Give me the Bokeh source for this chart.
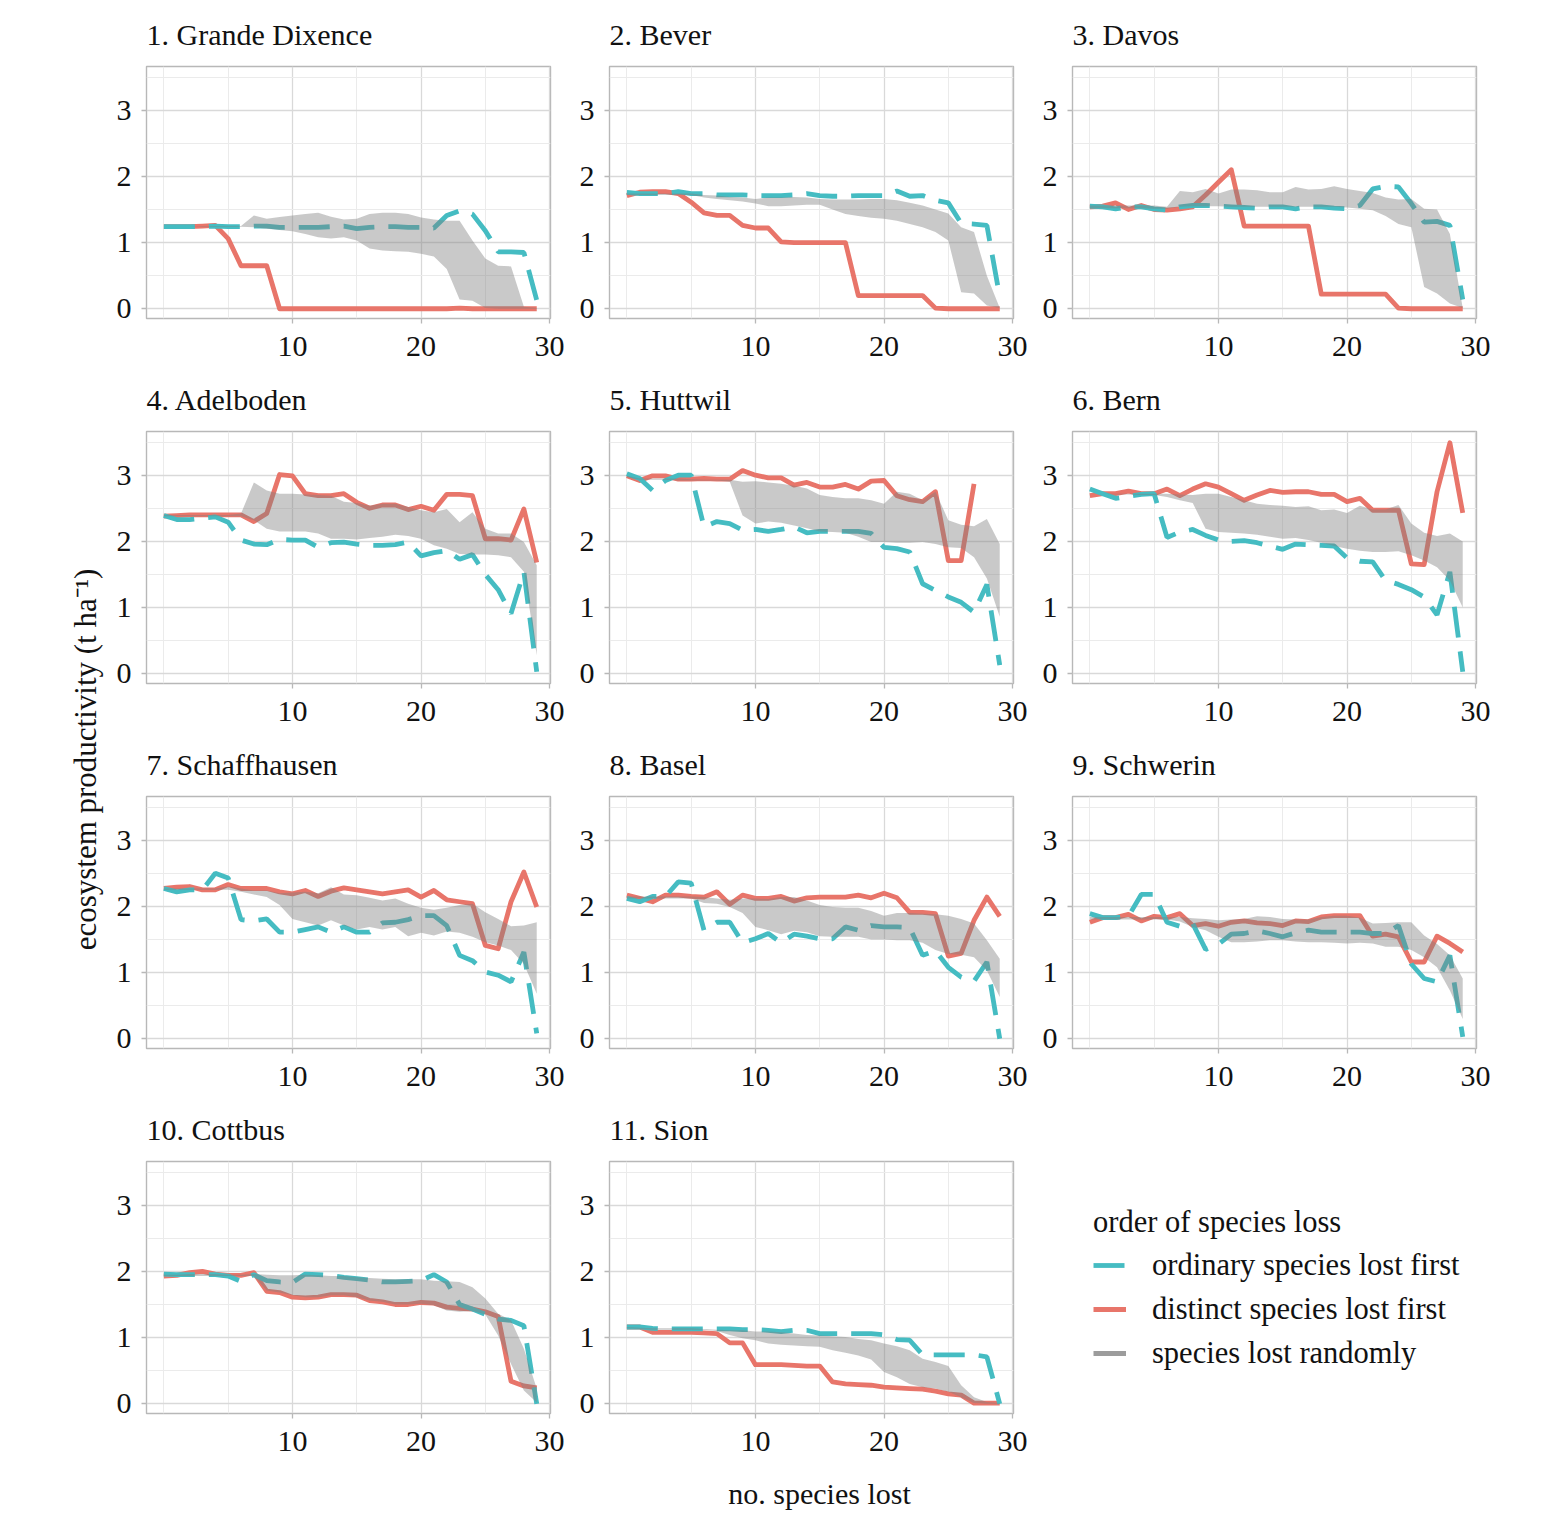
import math
from bokeh.plotting import figure
from bokeh.layouts import row, column
from bokeh.models import FixedTicker, Legend, LegendItem, Range1d, Label
from bokeh.embed import file_html
from bokeh.resources import INLINE

NAN = float("nan")

# number of species lost (x axis), shared by every site
SPECIES_LOST = list(range(30))

SITES = ["1. Grande Dixence", "2. Bever", "3. Davos", "4. Adelboden", "5. Huttwil",
         "6. Bern", "7. Schaffhausen", "8. Basel", "9. Schwerin", "10. Cottbus", "11. Sion"]

# productivity (t/ha): distinct species lost first, ordinary species lost first,
# and the envelope of random loss orders (lower / upper)
GD_DISTINCT = [1.24, 1.24, 1.24, 1.25, 1.26, 1.06, 0.65, 0.65, 0.65, 0.0, 0, 0, 0, 0, 0, 0, 0, 0, 0, 0, 0, 0, 0, 0.01, 0, 0, 0, 0, 0, 0]
GD_ORDINARY = [1.24, 1.24, 1.24, 1.24, 1.25, 1.24, 1.24, 1.25, 1.25, 1.23, 1.23, 1.23, 1.23, 1.24, 1.25, 1.21, 1.23, 1.24, 1.24, 1.23, 1.23, 1.22, 1.41, 1.48, 1.43, 1.18, 0.86, 0.86, 0.85, 0.13]
GD_RAND_LO = [1.24, 1.24, 1.24, 1.24, 1.24, 1.24, 1.24, 1.23, 1.21, 1.19, 1.17, 1.13, 1.08, 1.06, 1.08, 1.03, 0.91, 0.88, 0.87, 0.86, 0.83, 0.79, 0.6, 0.14, 0.12, 0.01, 0, 0, 0, 0]
GD_RAND_HI = [1.24, 1.24, 1.24, 1.25, 1.25, 1.25, 1.25, 1.41, 1.36, 1.385, 1.41, 1.43, 1.45, 1.39, 1.35, 1.36, 1.43, 1.45, 1.45, 1.43, 1.38, 1.35, 1.33, 1.33, 1.03, 0.76, 0.65, 0.64, 0.03, 0.01]

BE_DISTINCT = [1.71, 1.76, 1.77, 1.77, 1.74, 1.61, 1.45, 1.41, 1.41, 1.26, 1.22, 1.22, 1.01, 1.0, 1.0, 1.0, 1.0, 1.0, 0.2, 0.2, 0.2, 0.2, 0.2, 0.2, 0.01, 0, 0, 0, 0, 0]
BE_ORDINARY = [1.76, 1.74, 1.74, 1.74, 1.77, 1.74, 1.74, 1.72, 1.72, 1.72, 1.71, 1.71, 1.71, 1.72, 1.74, 1.71, 1.70, 1.70, 1.71, 1.71, 1.71, 1.78, 1.70, 1.71, 1.64, 1.6, 1.29, 1.28, 1.26, 0.18]
BE_RAND_LO = [1.72, 1.72, 1.72, 1.72, 1.72, 1.72, 1.68, 1.66, 1.64, 1.62, 1.59, 1.55, 1.55, 1.56, 1.57, 1.57, 1.5, 1.43, 1.4, 1.375, 1.36, 1.33, 1.28, 1.23, 1.16, 1.03, 0.25, 0.23, 0.05, 0.01]
BE_RAND_HI = [1.74, 1.74, 1.74, 1.74, 1.74, 1.74, 1.72, 1.71, 1.69, 1.68, 1.66, 1.68, 1.68, 1.69, 1.68, 1.66, 1.65, 1.65, 1.65, 1.66, 1.66, 1.64, 1.6, 1.56, 1.5, 1.44, 1.23, 1.16, 0.5, 0.01]

DA_DISTINCT = [1.54, 1.55, 1.6, 1.5, 1.56, 1.5, 1.49, 1.51, 1.54, 1.72, 1.91, 2.1, 1.25, 1.25, 1.25, 1.25, 1.25, 1.25, 0.22, 0.22, 0.22, 0.22, 0.22, 0.22, 0.01, 0, 0, 0, 0, 0]
DA_ORDINARY = [1.55, 1.54, 1.51, 1.54, 1.54, 1.51, 1.49, 1.54, 1.56, 1.56, 1.55, 1.54, 1.53, 1.52, 1.54, 1.54, 1.51, 1.54, 1.54, 1.52, 1.51, 1.56, 1.81, 1.85, 1.84, 1.59, 1.31, 1.32, 1.26, 0.14]
DA_RAND_LO = [1.52, 1.52, 1.52, 1.52, 1.52, 1.51, 1.51, 1.54, 1.55, 1.55, 1.55, 1.54, 1.54, 1.54, 1.54, 1.54, 1.54, 1.54, 1.54, 1.54, 1.53, 1.51, 1.49, 1.4, 1.28, 1.23, 0.33, 0.23, 0.08, 0.01]
DA_RAND_HI = [1.56, 1.56, 1.56, 1.56, 1.56, 1.56, 1.54, 1.78, 1.76, 1.81, 1.74, 1.8, 1.8, 1.79, 1.76, 1.76, 1.84, 1.8, 1.81, 1.85, 1.81, 1.78, 1.75, 1.68, 1.65, 1.66, 1.51, 1.5, 1.13, 0.01]

AD_DISTINCT = [2.38, 2.39, 2.4, 2.4, 2.4, 2.4, 2.4, 2.3, 2.42, 3.01, 2.99, 2.72, 2.69, 2.69, 2.72, 2.59, 2.5, 2.55, 2.55, 2.48, 2.53, 2.47, 2.71, 2.71, 2.69, 2.04, 2.04, 2.02, 2.49, 1.68]
AD_ORDINARY = [2.39, 2.33, 2.33, 2.35, 2.37, 2.29, 2.02, 1.96, 1.95, 2.03, 2.02, 2.02, 1.91, 1.98, 1.99, 1.96, 1.94, 1.94, 1.95, 1.99, 1.78, 1.83, 1.86, 1.73, 1.8, 1.5, 1.27, 0.91, 1.54, 0.03]
AD_RAND_LO = [2.38, 2.38, 2.38, 2.38, 2.38, 2.38, 2.38, 2.32, 2.19, 2.15, 2.15, 2.15, 2.12, 2.04, 2.04, 2.03, 2.05, 2.07, 2.1, 2.08, 2.04, 1.94, 1.89, 1.81, 1.8, 1.8, 1.79, 1.76, 1.54, 0.28]
AD_RAND_HI = [2.4, 2.4, 2.4, 2.4, 2.4, 2.4, 2.42, 2.89, 2.77, 2.72, 2.72, 2.71, 2.7, 2.69, 2.6, 2.58, 2.54, 2.57, 2.57, 2.52, 2.47, 2.44, 2.49, 2.29, 2.44, 2.19, 2.12, 2.12, 1.99, 1.64]

HU_DISTINCT = [2.99, 2.92, 2.99, 2.99, 2.94, 2.94, 2.95, 2.94, 2.94, 3.07, 3.0, 2.96, 2.96, 2.85, 2.89, 2.82, 2.82, 2.86, 2.79, 2.91, 2.92, 2.69, 2.63, 2.6, 2.75, 1.71, 1.71, 2.87, NAN, NAN]
HU_ORDINARY = [3.02, 2.95, 2.77, 2.92, 3.0, 3.0, 2.22, 2.3, 2.27, 2.17, 2.18, 2.15, 2.18, 2.22, 2.13, 2.15, 2.15, 2.15, 2.15, 2.12, 1.91, 1.89, 1.84, 1.36, 1.26, 1.16, 1.08, 0.93, 1.35, 0.13]
HU_RAND_LO = [2.97, 2.93, 2.93, 2.93, 2.92, 2.92, 2.92, 2.92, 2.9, 2.39, 2.27, 2.3, 2.28, 2.24, 2.2, 2.15, 2.14, 2.13, 2.07, 1.99, 1.99, 1.98, 1.98, 1.99, 1.96, 1.91, 1.9, 1.76, 1.44, 0.86]
HU_RAND_HI = [2.99, 2.95, 2.95, 2.95, 2.95, 2.94, 2.93, 2.93, 2.93, 2.9, 2.91, 2.89, 2.87, 2.84, 2.8, 2.7, 2.67, 2.65, 2.65, 2.62, 2.57, 2.75, 2.72, 2.62, 2.75, 2.32, 2.25, 2.23, 2.34, 1.96]

BN_DISTINCT = [2.69, 2.72, 2.72, 2.76, 2.72, 2.72, 2.79, 2.69, 2.79, 2.87, 2.82, 2.72, 2.62, 2.7, 2.77, 2.74, 2.75, 2.75, 2.71, 2.71, 2.6, 2.65, 2.47, 2.47, 2.47, 1.66, 1.65, 2.75, 3.49, 2.43]
BN_ORDINARY = [2.79, 2.72, 2.65, 2.68, 2.71, 2.72, 2.06, 2.14, 2.18, 2.09, 2.02, 2.0, 2.01, 1.98, 1.93, 1.88, 1.96, 1.95, 1.94, 1.93, 1.75, 1.7, 1.69, 1.41, 1.35, 1.27, 1.16, 0.89, 1.54, 0.03]
BN_RAND_LO = [2.72, 2.72, 2.71, 2.71, 2.7, 2.7, 2.67, 2.62, 2.58, 2.19, 2.14, 2.13, 2.12, 2.1, 2.07, 2.04, 2.05, 2.02, 1.98, 1.93, 1.89, 1.86, 1.84, 1.84, 1.85, 1.79, 1.71, 1.61, 1.41, 1.0]
BN_RAND_HI = [2.72, 2.72, 2.72, 2.72, 2.72, 2.72, 2.72, 2.71, 2.7, 2.72, 2.72, 2.67, 2.62, 2.57, 2.55, 2.54, 2.52, 2.53, 2.47, 2.48, 2.43, 2.54, 2.48, 2.48, 2.55, 2.27, 2.13, 2.08, 2.12, 2.0]

SC_DISTINCT = [2.27, 2.29, 2.3, 2.25, 2.25, 2.33, 2.27, 2.27, 2.27, 2.22, 2.19, 2.24, 2.15, 2.23, 2.28, 2.25, 2.22, 2.19, 2.22, 2.25, 2.14, 2.24, 2.1, 2.07, 2.04, 1.41, 1.36, 2.07, 2.52, 1.99]
SC_ORDINARY = [2.27, 2.22, 2.25, 2.25, 2.5, 2.43, 1.8, 1.78, 1.81, 1.61, 1.61, 1.65, 1.69, 1.61, 1.69, 1.61, 1.61, 1.75, 1.76, 1.8, 1.86, 1.86, 1.71, 1.26, 1.18, 1.01, 0.96, 0.86, 1.31, 0.08]
SC_RAND_LO = [2.25, 2.25, 2.25, 2.25, 2.25, 2.25, 2.22, 2.18, 2.14, 2.02, 1.81, 1.76, 1.71, 1.79, 1.71, 1.65, 1.69, 1.65, 1.69, 1.55, 1.6, 1.56, 1.62, 1.6, 1.54, 1.46, 1.41, 1.34, 1.13, 0.68]
SC_RAND_HI = [2.27, 2.27, 2.27, 2.27, 2.27, 2.3, 2.27, 2.24, 2.24, 2.2, 2.21, 2.22, 2.2, 2.29, 2.18, 2.17, 2.13, 2.09, 2.12, 2.04, 1.98, 1.95, 1.98, 2.02, 2.04, 1.91, 1.81, 1.7, 1.71, 1.76]

BA_DISTINCT = [2.17, 2.12, 2.07, 2.17, 2.17, 2.15, 2.14, 2.22, 2.03, 2.17, 2.12, 2.12, 2.15, 2.08, 2.13, 2.14, 2.14, 2.14, 2.17, 2.13, 2.2, 2.13, 1.91, 1.91, 1.89, 1.25, 1.29, 1.79, 2.14, 1.85]
BA_ORDINARY = [2.12, 2.07, 2.15, 2.15, 2.37, 2.35, 1.64, 1.76, 1.76, 1.45, 1.51, 1.59, 1.45, 1.58, 1.55, 1.51, 1.51, 1.69, 1.64, 1.71, 1.69, 1.69, 1.68, 1.26, 1.33, 1.08, 0.93, 0.87, 1.16, 0.0]
BA_RAND_LO = [2.12, 2.12, 2.12, 2.12, 2.12, 2.12, 2.05, 2.04, 1.99, 1.9, 1.69, 1.64, 1.58, 1.63, 1.61, 1.55, 1.54, 1.54, 1.54, 1.5, 1.5, 1.49, 1.49, 1.45, 1.34, 1.28, 1.27, 1.23, 1.03, 0.63]
BA_RAND_HI = [2.15, 2.15, 2.15, 2.15, 2.15, 2.15, 2.14, 2.12, 2.1, 2.12, 2.12, 2.11, 2.14, 2.14, 2.09, 2.02, 1.99, 1.98, 1.98, 1.93, 1.86, 1.9, 1.9, 1.89, 1.88, 1.86, 1.81, 1.74, 1.49, 1.21]

SW_DISTINCT = [1.76, 1.83, 1.83, 1.88, 1.78, 1.85, 1.83, 1.89, 1.71, 1.74, 1.7, 1.76, 1.78, 1.75, 1.74, 1.71, 1.78, 1.77, 1.84, 1.86, 1.86, 1.86, 1.55, 1.58, 1.54, 1.16, 1.16, 1.55, 1.44, 1.31]
SW_ORDINARY = [1.89, 1.83, 1.83, 1.85, 2.18, 2.18, 1.76, 1.7, 1.74, 1.35, 1.43, 1.58, 1.59, 1.63, 1.59, 1.54, 1.6, 1.64, 1.61, 1.61, 1.61, 1.61, 1.59, 1.59, 1.71, 1.13, 0.91, 0.86, 1.26, 0.03]
SW_RAND_LO = [1.8, 1.8, 1.8, 1.8, 1.8, 1.8, 1.8, 1.77, 1.69, 1.64, 1.54, 1.46, 1.46, 1.47, 1.49, 1.49, 1.47, 1.46, 1.46, 1.45, 1.44, 1.45, 1.44, 1.39, 1.39, 1.34, 1.23, 1.08, 0.73, 0.3]
SW_RAND_HI = [1.84, 1.84, 1.84, 1.84, 1.84, 1.84, 1.84, 1.84, 1.82, 1.81, 1.79, 1.8, 1.81, 1.85, 1.84, 1.81, 1.8, 1.8, 1.84, 1.86, 1.86, 1.83, 1.74, 1.75, 1.76, 1.76, 1.56, 1.43, 1.26, 0.91]

CO_DISTINCT = [1.93, 1.94, 1.98, 2.0, 1.96, 1.94, 1.94, 1.98, 1.7, 1.68, 1.61, 1.6, 1.61, 1.65, 1.65, 1.64, 1.56, 1.54, 1.5, 1.5, 1.53, 1.52, 1.46, 1.44, 1.43, 1.39, 1.32, 0.34, 0.27, 0.24]
CO_ORDINARY = [1.96, 1.95, 1.95, 1.95, 1.95, 1.93, 1.85, 1.95, 1.86, 1.84, 1.83, 1.96, 1.95, 1.94, 1.91, 1.89, 1.87, 1.84, 1.84, 1.85, 1.86, 1.95, 1.84, 1.5, 1.43, 1.35, 1.28, 1.26, 1.18, 0.0]
CO_RAND_LO = [1.93, 1.93, 1.93, 1.93, 1.93, 1.93, 1.93, 1.93, 1.71, 1.68, 1.64, 1.61, 1.61, 1.64, 1.64, 1.61, 1.56, 1.54, 1.5, 1.5, 1.51, 1.49, 1.41, 1.39, 1.4, 1.35, 1.03, 0.6, 0.2, 0.02]
CO_RAND_HI = [1.95, 1.95, 1.96, 1.96, 1.96, 1.95, 1.95, 1.96, 1.95, 1.94, 1.94, 1.95, 1.94, 1.93, 1.93, 1.91, 1.9, 1.89, 1.88, 1.88, 1.88, 1.86, 1.85, 1.84, 1.76, 1.59, 1.36, 1.26, 0.83, 0.23]

SI_DISTINCT = [1.16, 1.16, 1.08, 1.08, 1.08, 1.08, 1.07, 1.06, 0.92, 0.92, 0.59, 0.59, 0.59, 0.58, 0.57, 0.57, 0.33, 0.3, 0.29, 0.28, 0.25, 0.24, 0.23, 0.22, 0.19, 0.15, 0.13, 0.01, 0.01, 0.01]
SI_ORDINARY = [1.16, 1.16, 1.14, 1.13, 1.13, 1.13, 1.13, 1.13, 1.13, 1.12, 1.12, 1.11, 1.09, 1.11, 1.11, 1.06, 1.06, 1.06, 1.06, 1.06, 1.04, 0.97, 0.96, 0.74, 0.74, 0.74, 0.74, 0.74, 0.71, 0.0]
SI_RAND_LO = [1.14, 1.13, 1.12, 1.12, 1.12, 1.12, 1.12, 1.1, 1.04, 0.99, 0.96, 0.91, 0.89, 0.88, 0.87, 0.86, 0.81, 0.77, 0.73, 0.67, 0.48, 0.4, 0.3, 0.25, 0.23, 0.18, 0.1, 0.01, 0.0, 0.0]
SI_RAND_HI = [1.16, 1.15, 1.14, 1.14, 1.14, 1.14, 1.13, 1.12, 1.11, 1.11, 1.09, 1.09, 1.08, 1.06, 1.04, 1.03, 1.02, 1.01, 0.98, 0.96, 0.91, 0.87, 0.81, 0.68, 0.63, 0.57, 0.28, 0.1, 0.025, 0.01]

SERIES = [
    (GD_DISTINCT, GD_ORDINARY, GD_RAND_LO, GD_RAND_HI),
    (BE_DISTINCT, BE_ORDINARY, BE_RAND_LO, BE_RAND_HI),
    (DA_DISTINCT, DA_ORDINARY, DA_RAND_LO, DA_RAND_HI),
    (AD_DISTINCT, AD_ORDINARY, AD_RAND_LO, AD_RAND_HI),
    (HU_DISTINCT, HU_ORDINARY, HU_RAND_LO, HU_RAND_HI),
    (BN_DISTINCT, BN_ORDINARY, BN_RAND_LO, BN_RAND_HI),
    (SC_DISTINCT, SC_ORDINARY, SC_RAND_LO, SC_RAND_HI),
    (BA_DISTINCT, BA_ORDINARY, BA_RAND_LO, BA_RAND_HI),
    (SW_DISTINCT, SW_ORDINARY, SW_RAND_LO, SW_RAND_HI),
    (CO_DISTINCT, CO_ORDINARY, CO_RAND_LO, CO_RAND_HI),
    (SI_DISTINCT, SI_ORDINARY, SI_RAND_LO, SI_RAND_HI),
]

X_TICKS = [10, 20, 30]
Y_TICKS = [0, 1, 2, 3]

RED = "#E8756A"
TEAL = "#45BCC2"
RIBBON = "#7F7F7F"
LEGEND_GREY = "#9C9C9C"
BORDER = "#B8B8B8"
INK = "#111111"
FONT = "Liberation Serif"
FS = "30px"
LW = 4.8
DASH = "31 14"

YLAB_W = 106
CELL_W, CELL_H = 463, 365
FRAME_W, FRAME_H = 404, 252
LEFT, TOP = 146 - YLAB_W, 66
BOTTOM = CELL_H - TOP - FRAME_H


def cell_figure(extra_right=0, **kw):
    return figure(frame_width=FRAME_W, frame_height=FRAME_H,
                  min_border_left=LEFT, min_border_top=TOP,
                  min_border_right=CELL_W - LEFT - FRAME_W + extra_right,
                  min_border_bottom=BOTTOM,
                  output_backend="svg", toolbar_location=None, tools="", **kw)


def make_panel(title, distinct, ordinary, lo, hi, extra_right=0):
    p = cell_figure(extra_right, x_range=Range1d(-1.35, 30.07), y_range=Range1d(-0.147, 3.66))
    p.title.text = title
    p.title.text_font = FONT
    p.title.text_font_size = FS
    p.title.text_font_style = "normal"
    p.title.text_color = INK
    p.title.align = "left"
    p.title.offset = 0
    p.title.standoff = 31

    p.xaxis.ticker = FixedTicker(ticks=X_TICKS, minor_ticks=[0, 5, 15, 25])
    p.yaxis.ticker = FixedTicker(ticks=Y_TICKS, minor_ticks=[0.5, 1.5, 2.5, 3.5])
    for ax in (p.xaxis[0], p.yaxis[0]):
        ax.axis_line_color = None
        ax.major_tick_line_color = BORDER
        ax.major_tick_line_width = 1.3
        ax.major_tick_out = 5
        ax.major_tick_in = 0
        ax.minor_tick_out = 0
        ax.minor_tick_in = 0
        ax.major_label_text_font = FONT
        ax.major_label_text_font_size = FS
        ax.major_label_text_color = INK
    p.xaxis.major_label_standoff = 13
    p.yaxis.major_label_standoff = 10

    p.grid.grid_line_color = "#D9D9D9"
    p.grid.grid_line_width = 1.3
    p.grid.minor_grid_line_color = "#EBEBEB"
    p.grid.minor_grid_line_width = 1.0
    p.outline_line_color = BORDER
    p.outline_line_width = 1.4

    p.line(SPECIES_LOST, distinct, line_color=RED, line_width=LW, line_join="round")
    p.line(SPECIES_LOST, ordinary, line_color=TEAL, line_width=LW, line_dash=DASH)
    p.varea(x=SPECIES_LOST, y1=lo, y2=hi, fill_color=RIBBON, fill_alpha=0.42)
    return p


panels = []
for i, (name, (d, o, lo, hi)) in enumerate(zip(SITES, SERIES)):
    panels.append(make_panel(name, d, o, lo, hi, extra_right=30 if i % 3 == 2 else 0))

# legend cell: same frame geometry as the panels so the grid stays aligned;
# the keys come from line renderers kept outside the visible range
lg = cell_figure(30, x_range=Range1d(100, 101), y_range=Range1d(100, 101),
                 x_axis_location=None, y_axis_location=None)
lg.outline_line_color = None
lg.grid.visible = False
r_ord = lg.line(SPECIES_LOST, GD_ORDINARY, line_color=TEAL, line_width=LW, line_dash=DASH)
r_dis = lg.line(SPECIES_LOST, GD_DISTINCT, line_color=RED, line_width=LW)
r_rnd = lg.line(SPECIES_LOST, GD_RAND_HI, line_color=LEGEND_GREY, line_width=LW)
legend = Legend(items=[LegendItem(label="ordinary species lost first", renderers=[r_ord]),
                       LegendItem(label="distinct species lost first", renderers=[r_dis]),
                       LegendItem(label="species lost randomly", renderers=[r_rnd])],
                title="order of species loss", location=(21, 40),
                margin=0, padding=0, border_line_color=None, background_fill_alpha=0,
                glyph_width=33, glyph_height=40, label_height=40, label_standoff=26,
                spacing=4, title_standoff=5)
legend.title_text_font = FONT
legend.title_text_font_size = "30.5px"
legend.title_text_font_style = "normal"
legend.title_text_color = INK
legend.label_text_font = FONT
legend.label_text_font_size = "30.5px"
legend.label_text_color = INK
lg.add_layout(legend)

# shared y-axis title
yl = figure(frame_width=YLAB_W, frame_height=4 * CELL_H,
            x_range=Range1d(0, YLAB_W), y_range=Range1d(0, 4 * CELL_H),
            x_axis_location=None, y_axis_location=None, min_border=0,
            output_backend="svg", toolbar_location=None, tools="")
yl.outline_line_color = None
yl.grid.visible = False
yl.add_layout(Label(x=85, y=4 * CELL_H - 759, text="ecosystem productivity (t ha\u207b\u00b9)",
                    angle=math.pi / 2, text_align="center", text_baseline="middle",
                    text_font=FONT, text_font_size="31px", text_color=INK))

# shared x-axis title
XL_H = 58
xl = figure(frame_width=1552, frame_height=XL_H, x_range=Range1d(0, 1552), y_range=Range1d(0, XL_H),
            x_axis_location=None, y_axis_location=None, min_border=0,
            output_backend="svg", toolbar_location=None, tools="")
xl.outline_line_color = None
xl.grid.visible = False
xl.add_layout(Label(x=819, y=XL_H - 33, text="no. species lost",
                    text_align="center", text_baseline="middle",
                    text_font=FONT, text_font_size="30px", text_color=INK))

grid = column(row(*panels[0:3]), row(*panels[3:6]), row(*panels[6:9]),
              row(panels[9], panels[10], lg))
layout = column(row(yl, grid), xl)

open("out.html", "w").write(file_html(layout, INLINE))
